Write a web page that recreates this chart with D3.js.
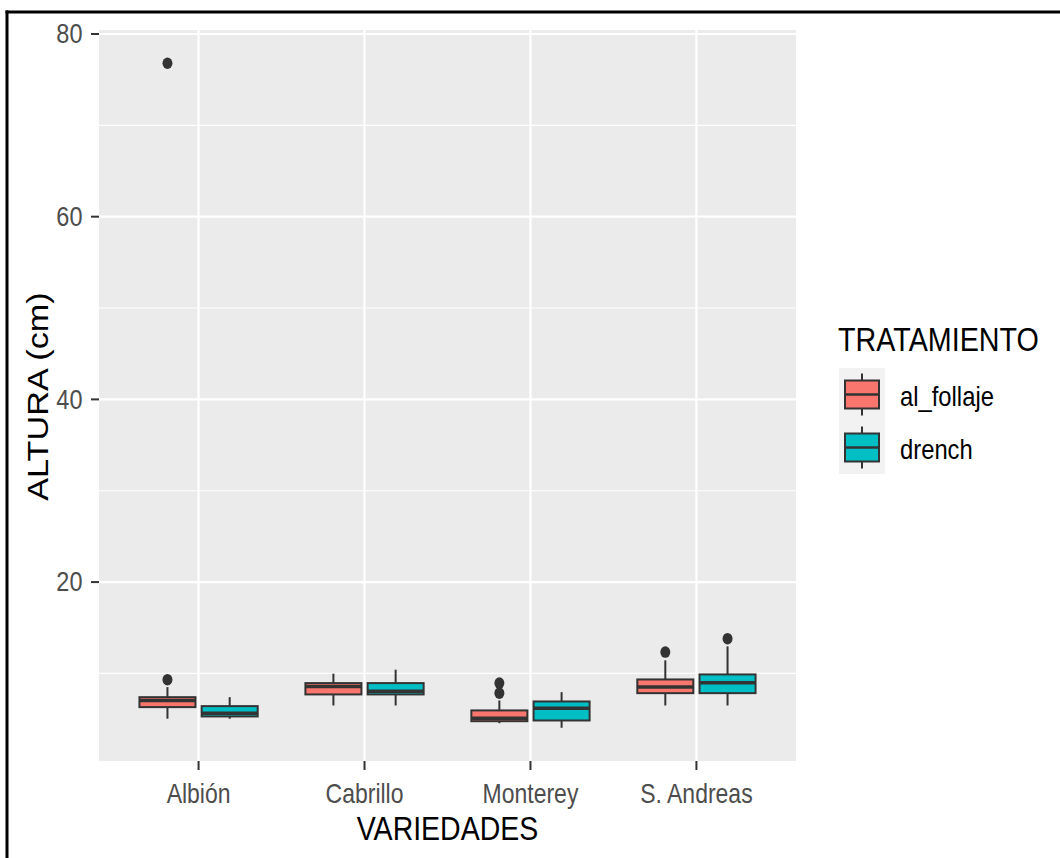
<!DOCTYPE html>
<html>
<head>
<meta charset="utf-8">
<script src="https://cdn.jsdelivr.net/npm/d3@7"></script>
<style>
  html, body { margin: 0; padding: 0; background: #fff; }
  svg { display: block; }
  text { font-family: "Liberation Sans", Arial, sans-serif; }
</style>
</head>
<body>
<svg id="chart" width="1060" height="858"></svg>
<script>
// Varieties on the x axis and the two treatments used as fill
const categories = ["Albión", "Cabrillo", "Monterey", "S. Andreas"];
const treatments = ["al_follaje", "drench"];
const fillColors = ["#F8766D", "#00BFC4"];
const yTicks = [20, 40, 60, 80];
const yMinorTicks = [10, 30, 50, 70];

// Box statistics per variety: al_follaje
const lowFollaje  = [5.04, 6.49, 4.55, 6.49];
const q1Follaje   = [6.31, 7.70, 4.77, 7.84];
const medFollaje  = [7.04, 8.58, 5.10, 8.50];
const q3Follaje   = [7.40, 8.94, 5.95, 9.34];
const highFollaje = [8.50, 9.97, 7.04, 11.43];
const outFollaje  = [[9.31, 76.8], [], [7.84, 8.94], [12.34]];

// Box statistics per variety: drench
const lowDrench  = [5.04, 6.49, 4.05, 6.49];
const q1Drench   = [5.29, 7.70, 4.85, 7.84];
const medDrench  = [5.65, 8.06, 6.20, 8.98];
const q3Drench   = [6.42, 8.94, 6.93, 9.89];
const highDrench = [7.40, 10.41, 7.95, 12.96];
const outDrench  = [[], [], [], [13.80]];

const seriesStats = [
  { low: lowFollaje, q1: q1Follaje, med: medFollaje, q3: q3Follaje, high: highFollaje, out: outFollaje },
  { low: lowDrench,  q1: q1Drench,  med: medDrench,  q3: q3Drench,  high: highDrench,  out: outDrench }
];

const boxes = [];
treatments.forEach((t, ti) => {
  const s = seriesStats[ti];
  categories.forEach((c, ci) => {
    boxes.push({
      cat: c, trt: t, color: fillColors[ti],
      low: s.low[ci], q1: s.q1[ci], med: s.med[ci], q3: s.q3[ci], high: s.high[ci], out: s.out[ci]
    });
  });
});

const svg = d3.select("#chart");
const panel = { left: 99, right: 796, top: 30, bottom: 761 };
const SY = 1.18;            // vertical stretch applied to all text
const darkLine = "#333333";

// y domain: data range padded by 5% on each side
const allVals = boxes.flatMap(b => [b.low, b.high, ...b.out]);
const vMin = d3.min(allVals), vMax = d3.max(allVals);
const pad = 0.05 * (vMax - vMin);
const y = d3.scaleLinear().domain([vMin - pad, vMax + pad]).range([panel.bottom, panel.top]);

const x = d3.scalePoint().domain(categories).range([panel.left, panel.right]).padding(0.6);
const step = x.step();
const xSub = d3.scaleBand().domain(treatments).range([-0.375 * step, 0.375 * step]);
const boxW = xSub.bandwidth() * 0.9;

// panel background
svg.append("rect")
  .attr("x", panel.left).attr("y", panel.top)
  .attr("width", panel.right - panel.left).attr("height", panel.bottom - panel.top)
  .attr("fill", "#EBEBEB");

// grid lines
const grid = svg.append("g");
grid.selectAll(".minor").data(yMinorTicks).join("line")
  .attr("x1", panel.left).attr("x2", panel.right)
  .attr("y1", d => y(d)).attr("y2", d => y(d))
  .attr("stroke", "#fff").attr("stroke-width", 1.1);
grid.selectAll(".major").data(yTicks).join("line")
  .attr("x1", panel.left).attr("x2", panel.right)
  .attr("y1", d => y(d)).attr("y2", d => y(d))
  .attr("stroke", "#fff").attr("stroke-width", 2.2);
grid.selectAll(".vmajor").data(categories).join("line")
  .attr("x1", d => x(d)).attr("x2", d => x(d))
  .attr("y1", panel.top).attr("y2", panel.bottom)
  .attr("stroke", "#fff").attr("stroke-width", 2.2);

// boxplots
const bg = svg.append("g").selectAll("g").data(boxes).join("g")
  .attr("transform", d => `translate(${x(d.cat) + xSub(d.trt) + xSub.bandwidth() / 2},0)`);

bg.append("line")
  .attr("x1", 0).attr("x2", 0)
  .attr("y1", d => y(d.high)).attr("y2", d => y(d.q3))
  .attr("stroke", darkLine).attr("stroke-width", 2);
bg.append("line")
  .attr("x1", 0).attr("x2", 0)
  .attr("y1", d => y(d.q1)).attr("y2", d => y(d.low))
  .attr("stroke", darkLine).attr("stroke-width", 2);
bg.append("rect")
  .attr("x", -boxW / 2).attr("width", boxW)
  .attr("y", d => y(d.q3)).attr("height", d => y(d.q1) - y(d.q3))
  .attr("fill", d => d.color).attr("stroke", darkLine).attr("stroke-width", 2);
bg.append("line")
  .attr("x1", -boxW / 2).attr("x2", boxW / 2)
  .attr("y1", d => y(d.med)).attr("y2", d => y(d.med))
  .attr("stroke", darkLine).attr("stroke-width", 3.5);
bg.selectAll("ellipse").data(d => d.out).join("ellipse")
  .attr("cx", 0).attr("cy", d => y(d))
  .attr("rx", 5).attr("ry", 5.8)
  .attr("fill", darkLine);

// stretched text helper
function stretchedText(sel, px, py, str, size, color, anchor, rotate) {
  const g = sel.append("g").attr("transform", rotate
    ? `translate(${px},${py}) rotate(-90) scale(${SY},1)`
    : `translate(${px},${py}) scale(1,${SY})`);
  g.append("text").text(str)
    .attr("font-size", size).attr("fill", color)
    .attr("text-anchor", anchor);
  return g;
}

// y axis: ticks and labels
const yAxis = svg.append("g");
yAxis.selectAll("line").data(yTicks).join("line")
  .attr("x1", panel.left - 8).attr("x2", panel.left)
  .attr("y1", d => y(d)).attr("y2", d => y(d))
  .attr("stroke", darkLine).attr("stroke-width", 2);
yTicks.forEach(t => stretchedText(yAxis, 82.5, y(t) + 7.8 * SY, String(t), 23.5, "#4D4D4D", "end"));

// x axis: ticks and labels
const xAxis = svg.append("g");
xAxis.selectAll("line").data(categories).join("line")
  .attr("x1", d => x(d)).attr("x2", d => x(d))
  .attr("y1", panel.bottom).attr("y2", panel.bottom + 9)
  .attr("stroke", darkLine).attr("stroke-width", 2);
categories.forEach(c => stretchedText(xAxis, x(c), 802.5, c, 23, "#4D4D4D", "middle"));

// axis titles
stretchedText(svg, (panel.left + panel.right) / 2, 840, "VARIEDADES", 28.5, "#000", "middle");
stretchedText(svg, 48, (panel.top + panel.bottom) / 2 + 1, "ALTURA (cm)", 29, "#000", "middle", true);

// legend
const lg = svg.append("g");
stretchedText(lg, 838, 351, "TRATAMIENTO", 28.7, "#000", "start");
const keyH = 53, keyTop = 368, keyLeft = 839, keyW = 46;
treatments.forEach((t, i) => {
  const top = keyTop + i * keyH;
  const cy = top + keyH / 2;
  lg.append("rect").attr("x", keyLeft).attr("y", top)
    .attr("width", keyW).attr("height", keyH).attr("fill", "#F2F2F2");
  const cx = keyLeft + keyW / 2;
  lg.append("line").attr("x1", cx).attr("x2", cx)
    .attr("y1", cy - 21).attr("y2", cy + 21)
    .attr("stroke", darkLine).attr("stroke-width", 2);
  lg.append("rect").attr("x", keyLeft + 6).attr("y", cy - 14)
    .attr("width", keyW - 12).attr("height", 28)
    .attr("fill", fillColors[i]).attr("stroke", darkLine).attr("stroke-width", 2);
  lg.append("line").attr("x1", keyLeft + 6).attr("x2", keyLeft + keyW - 6)
    .attr("y1", cy).attr("y2", cy)
    .attr("stroke", darkLine).attr("stroke-width", 2.5);
  stretchedText(lg, 900, cy + 10 * SY, t, 23.8, "#000", "start");
});

// outer frame
svg.append("line").attr("x1", 5.5).attr("x2", 1060).attr("y1", 12).attr("y2", 12)
  .attr("stroke", "#000").attr("stroke-width", 3);
svg.append("line").attr("x1", 7).attr("x2", 7).attr("y1", 10.5).attr("y2", 858)
  .attr("stroke", "#000").attr("stroke-width", 3);
</script>
</body>
</html>
